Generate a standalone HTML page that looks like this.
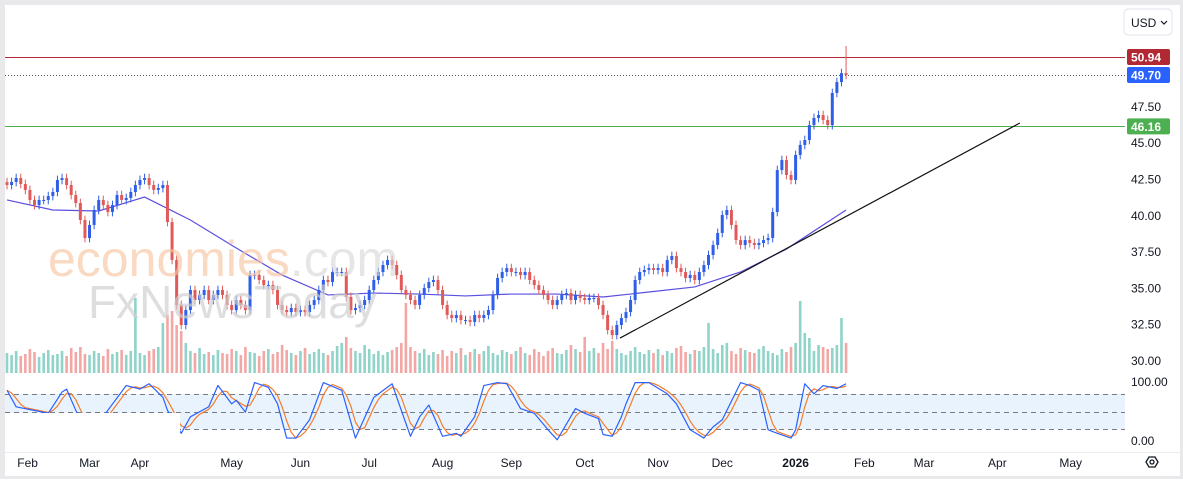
<!DOCTYPE html>
<html><head><meta charset="utf-8"><style>
html,body{margin:0;padding:0;background:#fff;}
body{width:1183px;height:479px;overflow:hidden;font-family:"Liberation Sans",sans-serif;}
svg text{font-family:"Liberation Sans",sans-serif;}
</style></head><body>
<svg id="chart" width="1183" height="479" viewBox="0 0 1183 479" xmlns="http://www.w3.org/2000/svg">
  <rect x="0" y="0" width="1183" height="479" fill="#ffffff"/>
  <rect x="0" y="0" width="1183" height="5" fill="#e9e9ec"/>
  <rect x="0" y="0" width="5" height="479" fill="#e9e9ec"/>
  <rect x="1180" y="0" width="3" height="479" fill="#e9e9ec"/>
  <rect x="0" y="476" width="1183" height="3" fill="#e9e9ec"/>
  <line x1="5" y1="452.5" x2="1180" y2="452.5" stroke="#eceef2"/>
  <g id="stochPane"></g>
  <g id="volPane"></g>
  <g id="linesPane"></g>
  <g id="candlePane"></g>
  <g opacity="0.75">
    <text x="48" y="276" font-size="50" fill="#f8c4a0" opacity="0.85">economies<tspan fill="#d9d9d9">.com</tspan></text>
    <text x="88" y="318" font-size="46" fill="#d0d0d0" opacity="0.9">FxNewsToday</text>
  </g>
  <g id="axisPane"></g>
  <g>
    <rect x="1124" y="9" width="48" height="26" rx="4" fill="#fff" stroke="#e0e3eb"/>
    <text x="1131" y="27" font-size="12" fill="#131722">USD</text>
    <path d="M1161 21 l3 3 l3 -3" fill="none" stroke="#131722" stroke-width="1.2"/>
  </g>
  <g id="timeAxis"></g>
  <g>
    <polygon points="1146,462 1149,457 1155,457 1158,462 1155,467 1149,467" fill="none" stroke="#131722" stroke-width="1.3"/>
    <circle cx="1152" cy="462" r="2" fill="none" stroke="#131722" stroke-width="1.3"/>
  </g>
</svg>
<script>
// ---- data ----
const closes = [
42.12,42.33,42.60,42.19,41.78,41.09,40.74,41.09,41.09,41.36,41.64,42.47,42.60,42.12,41.43,40.88,39.71,38.47,39.37,40.40,41.09,40.74,40.26,40.74,41.43,41.09,41.23,41.64,42.12,42.47,42.60,42.12,41.78,41.91,42.12,
39.57,36.96,33.86,32.48,33.51,34.89,34.20,34.55,34.89,34.20,34.55,34.89,34.55,33.86,33.51,34.20,33.86,33.51,35.92,35.92,35.58,35.23,35.23,34.89,33.86,33.51,33.37,33.65,33.37,33.51,33.37,33.86,34.20,
34.89,35.58,35.44,36.13,36.13,36.13,34.41,33.51,33.65,33.86,34.20,34.89,35.58,36.13,36.61,36.96,36.61,35.92,34.89,34.55,34.20,33.86,34.55,35.03,35.44,35.58,34.89,33.86,33.17,32.96,33.17,32.82,32.82,32.69,33.17,32.96,33.17,33.51,34.55,35.72,36.13,36.40,36.13,36.13,35.92,36.13,35.58,35.23,34.89,34.55,34.20,33.86,34.20,34.55,34.68,34.20,34.55,34.34,34.20,34.34,
34.34,33.86,33.17,32.13,31.79,32.48,32.96,33.37,34.20,35.58,36.13,36.27,36.40,36.27,36.40,36.13,36.96,37.23,36.40,36.13,35.72,35.92,35.58,36.13,36.61,37.30,37.99,38.82,40.06,40.40,39.37,38.33,37.99,38.33,38.13,37.99,38.13,38.33,38.47,40.26,43.15,43.84,42.81,42.47,44.19,44.88,45.22,46.25,46.74,46.94,46.60,46.25,48.46,49.21,49.83,49.70
];
const lastHigh = 51.7;
const volumes = [
20,18,22,17,19,24,21,16,20,23,18,19,22,17,25,21,26,19,18,22,20,17,24,19,21,23,18,22,
75,
20,18,22,24,26,
50,58,62,48,42,30,
22,20,25,19,21,18,23,20,19,24,22,18,26,21,20,17,22,24,19,21,28,23,20,18,22,25,19,21,24,20,18,22,27,30,
36,
25,22,20,28,24,19,22,18,21,23,26,30,
70,
26,22,20,24,18,21,19,23,17,22,20,25,18,21,24,19,22,27,20,18,23,21,19,22,26,20,18,24,21,17,22,25,20,19,23,28,24,21,
36,
22,25,20,30,24,
32,
24,20,18,22,26,21,19,23,20,24,18,22,20,25,27,21,19,23,22,26,
50,
24,20,28,30,22,19,25,23,21,20,24,27,22,20,18,24,21,26,30,
72,
40,35,22,28,26,24,25,28,
55,
30
];
const maIdx = [0,10,20,30,40,50,60,70,80,90,100,110,120,130,140,150,160,170,183];
const maVals = [41.09,40.40,40.33,41.29,39.71,37.78,35.92,34.55,34.68,34.61,34.48,34.61,34.61,34.41,34.75,35.10,36.13,37.71,40.40];
const stochIdx = [0,2,9,12,13,15,18,22,26,29,31,34,35,38,40,44,46,49,50,52,54,57,59,61,63,66,69,73,76,80,84,85,88,90,92,95,98,99,102,104,107,109,112,115,118,120,124,126,129,130,132,134,135,137,140,144,146,149,152,154,156,160,162,164,166,168,171,172,174,176,178,181,183];
const stochK = [86,58,47,83,88,52,10,52,94,88,97,74,52,13,41,58,94,63,69,49,99,91,63,5,5,36,99,86,5,74,97,74,8,41,61,8,13,8,41,94,99,97,55,47,19,2,55,47,38,11,8,41,63,99,99,80,63,19,5,24,36,99,94,86,19,13,5,19,97,80,94,89,97];
const trendStart = [133.7, 31.58];
const trendEnd = [220.9, 46.39];
const resistance = 50.94, lastPrice = 49.70, support = 46.16;
const priceTicks = [47.50,45.00,42.50,40.00,37.50,35.00,32.50,30.00];
const monthLabels = ["Feb","Mar","Apr","May","Jun","Jul","Aug","Sep","Oct","Nov","Dec","2026","Feb","Mar","Apr","May"];
const monthBars = [4.5,18,29,49,64,79,95,110,126,142,156,172,187,200,216,232];

// ---- scales ----
const X0 = 7, STEP = 4.585;
function xs(i){ return X0 + i*STEP; }
function ys(p){ return 361 - (p-30)*14.52; }
function ysto(v){ return 441 - v*0.59; }
function crisp(y){ return Math.round(y)+0.5; }
const NS = "http://www.w3.org/2000/svg";
function mk(tag, attrs, parent){ const e=document.createElementNS(NS,tag); for(const k in attrs) e.setAttribute(k,attrs[k]); parent.appendChild(e); return e; }

const stochG = document.getElementById('stochPane');
const volG = document.getElementById('volPane');
const linesG = document.getElementById('linesPane');
const candleG = document.getElementById('candlePane');
const axisG = document.getElementById('axisPane');
const timeG = document.getElementById('timeAxis');

// ---- stochastic pane ----
let band = mk('rect',{x:5,y:ysto(80),width:1120,height:ysto(20)-ysto(80),fill:'#e8f3fd'},stochG);


[80,50,20].forEach(v=>{
  const l = mk('line',{x1:5,x2:1125,y1:crisp(ysto(v)),y2:crisp(ysto(v)),stroke:'#787b86','stroke-dasharray':'5 4','stroke-width':1},stochG);
  
  
});
const n = closes.length;
const kFull = [];
for(let i=0;i<n;i++){
  let j=0; while(j<stochIdx.length-2 && stochIdx[j+1]<i) j++;
  const a=stochIdx[j], b=stochIdx[j+1];
  const t = b===a?0:Math.max(0,Math.min(1,(i-a)/(b-a)));
  kFull.push(stochK[j]+(stochK[j+1]-stochK[j])*t);
}
const dFull = kFull.map((v,i)=>{ const a=kFull[Math.max(0,i-1)], b=kFull[Math.max(0,i-2)]; return (v+a+b)/3; });
let dPath = mk('polyline',{points:dFull.map((v,i)=>xs(i)+','+ysto(v)).join(' '),fill:'none',stroke:'#f57c2c','stroke-width':1.2,'stroke-linejoin':'round'},stochG);


let kPath = mk('polyline',{points:stochIdx.map((ix,j)=>xs(ix)+','+ysto(stochK[j])).join(' '),fill:'none',stroke:'#2962ff','stroke-width':1.2,'stroke-linejoin':'round'},stochG);


let cover = mk('rect',{x:5,y:413,width:175,height:38,fill:'#ffffff'},stochG);


[[100,382],[0,441]].forEach(([v,y])=>{
  const t = mk('text',{x:1131,y:y+4,'font-size':12,fill:'#131722'},stochG);
  t.textContent = v.toFixed(2);
  
  
});

// ---- volume ----
volumes.forEach((v,i)=>{
  const o = i===0?closes[0]:closes[i-1];
  const up = closes[i]>=o;
  const r = mk('rect',{x:xs(i)-1.3,y:373-v,width:2.6,height:v,fill:up?'#8fd3c9':'#f3a7a5'},volG);
  
  
});

// ---- horizontal lines ----
let rl = mk('line',{x1:5,x2:1125,y1:crisp(ys(resistance)),y2:crisp(ys(resistance)),stroke:'#b22833','stroke-width':1},linesG);


let ll = mk('line',{x1:5,x2:1125,y1:crisp(ys(lastPrice)),y2:crisp(ys(lastPrice)),stroke:'#555','stroke-width':1,'stroke-dasharray':'1 2'},linesG);


let sl = mk('line',{x1:5,x2:1125,y1:crisp(ys(support)),y2:crisp(ys(support)),stroke:'#4caf50','stroke-width':1},linesG);


let ma = mk('polyline',{points:maIdx.map((ix,j)=>xs(ix)+','+ys(maVals[j])).join(' '),fill:'none',stroke:'#5b4fe0','stroke-width':1.2},linesG);


let tl = mk('line',{x1:xs(trendStart[0]),y1:ys(trendStart[1]),x2:xs(trendEnd[0]),y2:ys(trendEnd[1]),stroke:'#111','stroke-width':1.2},linesG);



// ---- candles ----
closes.forEach((c,i)=>{
  const o = i===0?c+0.2:closes[i-1];
  const up = c>=o;
  const col = up?'#2f5fe8':'#e05a5a';
  const hi = i===n-1?lastHigh:Math.max(o,c)+0.3;
  const lo = Math.min(o,c)-0.3;
  const g = mk('g',{},candleG);
  
  
  mk('line',{x1:xs(i),x2:xs(i),y1:ys(hi),y2:ys(lo),stroke:col,'stroke-width':1},g);
  const top = ys(Math.max(o,c)), bot = ys(Math.min(o,c));
  mk('rect',{x:xs(i)-1.5,y:top,width:3,height:Math.max(1,bot-top),fill:col},g);
});

// ---- price axis ----
priceTicks.forEach(p=>{
  const t = mk('text',{x:1131,y:ys(p)+4,'font-size':12,fill:'#131722'},axisG);
  t.textContent = p.toFixed(2);
  
  
});
[[resistance,'#b22833','resistance-price-label'],[lastPrice,'#2962ff','last-price-label'],[support,'#4caf50','support-price-label']].forEach(([p,col,name])=>{
  const g = mk('g',{},axisG);
  
  
  mk('rect',{x:1127,y:ys(p)-8,width:43,height:16,rx:2,fill:col},g);
  const t = mk('text',{x:1131,y:ys(p)+4.5,'font-size':12,'font-weight':'bold',fill:'#fff'},g);
  t.textContent = p.toFixed(2);
});

// ---- time axis ----
monthLabels.forEach((m,j)=>{
  const t = mk('text',{x:xs(monthBars[j]),y:467,'font-size':12,fill:'#131722','text-anchor':'middle'},timeG);
  if(m==='2026') t.setAttribute('font-weight','bold');
  t.textContent = m;
  
  
});
</script>
</body></html>
